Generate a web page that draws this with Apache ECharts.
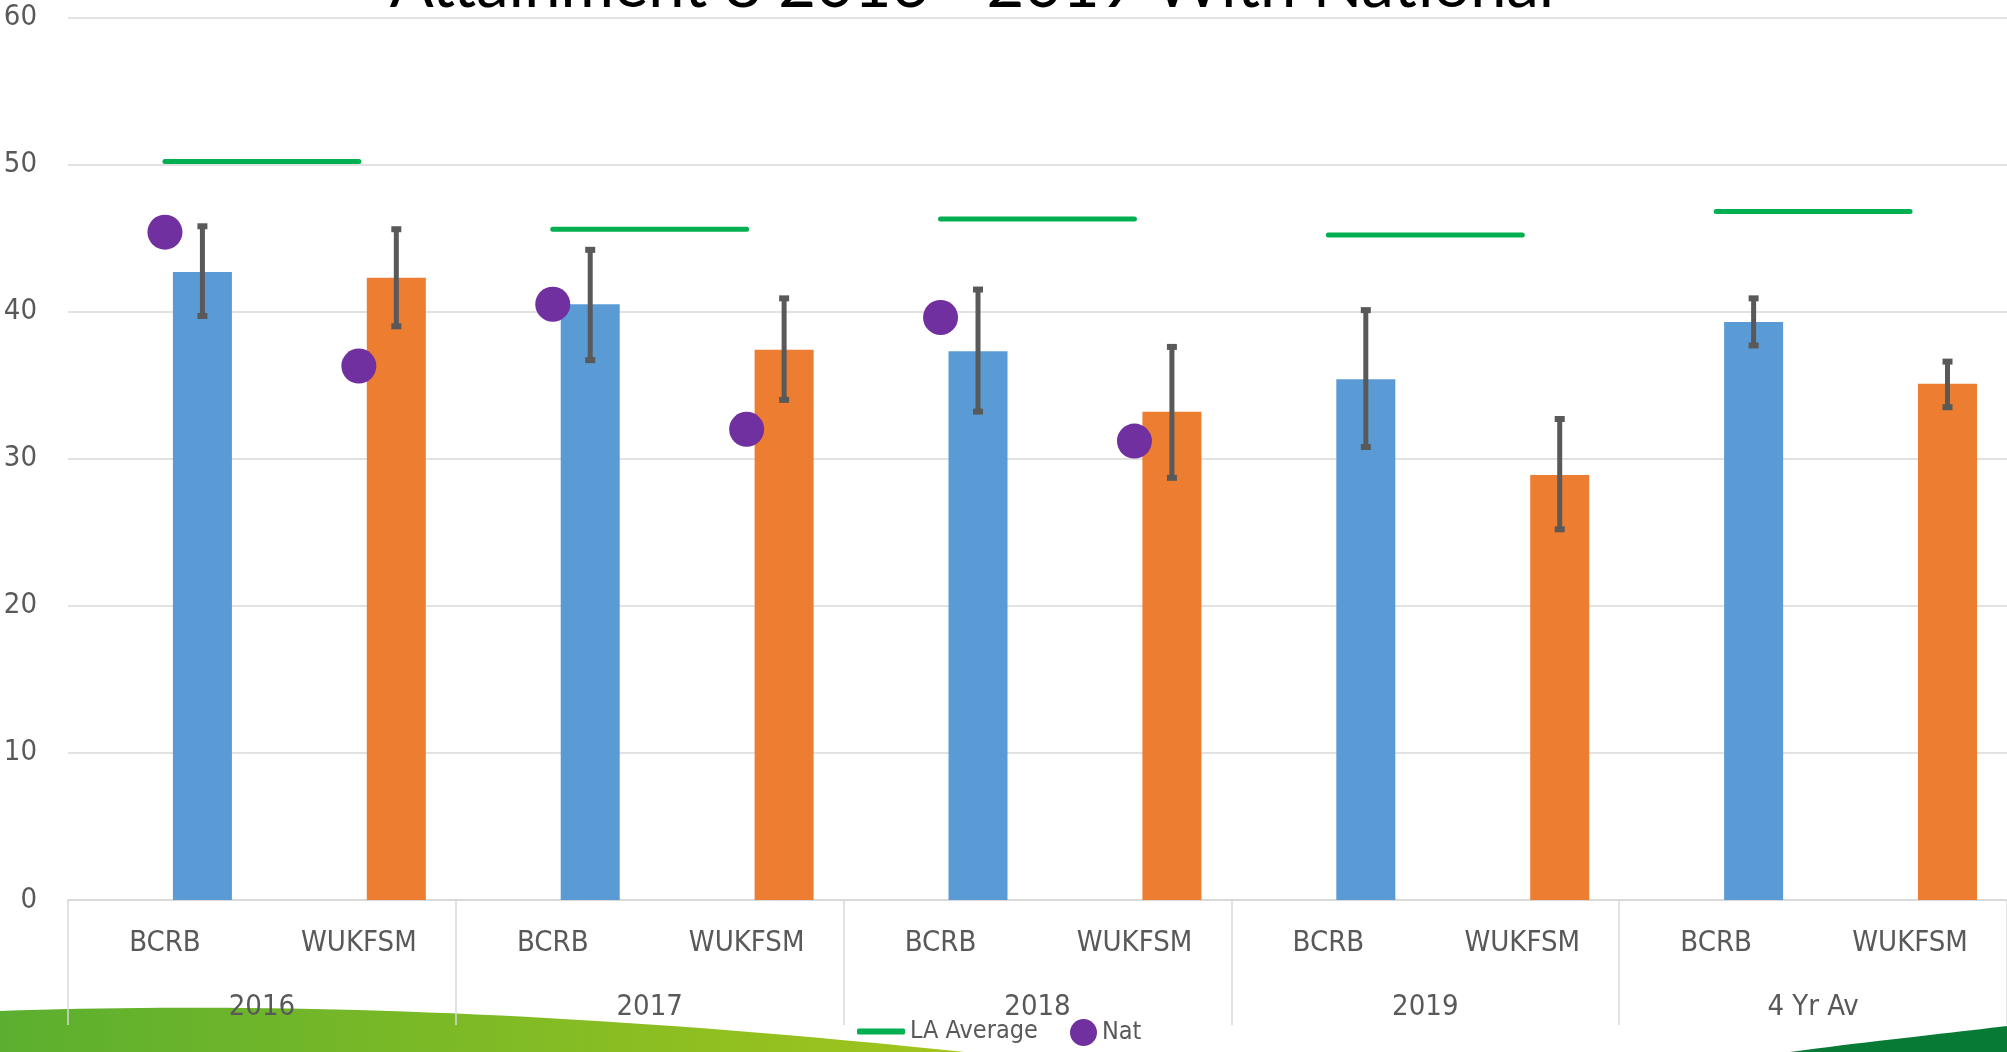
<!DOCTYPE html>
<html>
<head>
<meta charset="utf-8">
<title>Attainment 8 2016 - 2019 With National</title>
<script src="https://cdn.jsdelivr.net/npm/echarts@6/dist/echarts.min.js"></script>
<style>
  html, body { margin: 0; padding: 0; background: #ffffff; }
  #chart { width: 2007px; height: 1052px; }
</style>
</head>
<body>
<div id="chart"></div>
<script>
// data
const groups = ['2016', '2017', '2018', '2019', '4 Yr Av']
const categories = ['BCRB', 'WUKFSM', 'BCRB', 'WUKFSM', 'BCRB', 'WUKFSM', 'BCRB', 'WUKFSM', 'BCRB', 'WUKFSM']
const barValues = [42.7, 42.3, 40.5, 37.4, 37.3, 33.2, 35.4, 28.9, 39.3, 35.1]
const errLow = [39.7, 39.0, 36.7, 34.0, 33.2, 28.7, 30.8, 25.2, 37.7, 33.5]
const errHigh = [45.8, 45.6, 44.2, 40.9, 41.5, 37.6, 40.1, 32.7, 40.9, 36.6]
const natValues = [45.4, 36.3, 40.5, 32.0, 39.6, 31.2, null, null, null, null]
const laAverage = [50.2, 45.6, 46.3, 45.2, 46.8]
const yTicks = { min: 0, max: 60, interval: 10 }

const FONT = "'Liberation Sans Narrow', 'DejaVu Sans Condensed', sans-serif"
const GREY = '#595959'
const BLUE = '#5B9BD5', ORANGE = '#ED7D31', PURPLE = '#7030A0', GREEN = '#00B050'
const BAR_W = 59
const BAR_GAP = 0.27
// bars sit right of the category centre (empty slot on the left, like the excel chart)
const barShift = BAR_W * (1 + BAR_GAP) / 2

// slide background swooshes (decoration only)
function bezierPts(p0, p1, p2, p3, n) {
  const pts = []
  for (let k = 0; k <= n; k++) {
    const t = k / n, u = 1 - t
    pts.push([
      u*u*u*p0[0] + 3*u*u*t*p1[0] + 3*u*t*t*p2[0] + t*t*t*p3[0],
      u*u*u*p0[1] + 3*u*u*t*p1[1] + 3*u*t*t*p2[1] + t*t*t*p3[1]
    ])
  }
  return pts
}
const leftSwoosh = bezierPts([0, 1011], [260, 1002], [560, 1010], [965, 1052], 40).concat([[0, 1052]])
const rightSwoosh = bezierPts([1790, 1052], [1880, 1040], [1950, 1033], [2007, 1026], 20).concat([[2007, 1052]])

const chart = echarts.init(document.getElementById('chart'), null, { renderer: 'canvas' })

function errorItem(params, api) {
  const i = api.value(0)
  const lo = api.coord([i, api.value(1)])
  const hi = api.coord([i, api.value(2)])
  const x = lo[0] + barShift
  const st = { stroke: GREY, lineWidth: 5 }
  const cap = { stroke: GREY, lineWidth: 6 }
  return {
    type: 'group',
    children: [
      { type: 'line', shape: { x1: x, y1: hi[1], x2: x, y2: lo[1] }, style: st },
      { type: 'line', shape: { x1: x - 5, y1: hi[1], x2: x + 5, y2: hi[1] }, style: cap },
      { type: 'line', shape: { x1: x - 5, y1: lo[1], x2: x + 5, y2: lo[1] }, style: cap }
    ]
  }
}

function laItem(params, api) {
  const i = api.value(0)
  const v = api.value(1)
  const a = api.coord([i, v])
  const b = api.coord([i + 1, v])
  return {
    type: 'line',
    shape: { x1: a[0], y1: a[1], x2: b[0], y2: b[1] },
    style: { stroke: GREEN, lineWidth: 5, lineCap: 'round' }
  }
}

const option = {
  backgroundColor: '#ffffff',
  animation: false,
  textStyle: { fontFamily: FONT },
  graphic: [
    {
      type: 'polygon', z: -10, silent: true,
      shape: { points: leftSwoosh },
      style: {
        fill: {
          type: 'linear', x: 0, y: 0, x2: 1, y2: 0,
          colorStops: [
            { offset: 0, color: '#5BAF2F' },
            { offset: 1, color: '#A2C51C' }
          ]
        }
      }
    },
    {
      type: 'polygon', z: -10, silent: true,
      shape: { points: rightSwoosh },
      style: { fill: '#077A36' }
    },
    {
      type: 'text', x: 972, y: -14, z: 10, silent: true,
      style: {
        text: 'Attainment 8 2016 - 2019 With National',
        fontFamily: "Lato, 'Open Sans', sans-serif", fontWeight: 'normal', fontSize: 65,
        fill: '#000000', align: 'center', verticalAlign: 'middle'
      }
    }
  ],
  legend: [
    {
      data: [{ name: 'LA Average', icon: 'roundRect' }],
      left: 857, top: 1019, padding: 0, itemWidth: 48, itemHeight: 6,
      textStyle: { color: GREY, fontSize: 25, fontFamily: FONT }
    },
    {
      data: [{ name: 'Nat', icon: 'circle' }],
      left: 1070, top: 1019, padding: 0, itemWidth: 27, itemHeight: 27,
      textStyle: { color: GREY, fontSize: 25, fontFamily: FONT }
    }
  ],
  grid: { left: 68, right: 0, top: 17.4, bottom: 152, containLabel: false },
  xAxis: [
    {
      type: 'category', data: categories,
      axisLine: { lineStyle: { color: '#D9D9D9', width: 2 } },
      axisTick: { show: false },
      axisLabel: { color: GREY, fontSize: 29, fontFamily: FONT, margin: 29, interval: 0 }
    },
    {
      type: 'category', data: groups, position: 'bottom',
      axisLine: { show: false },
      axisTick: { show: true, length: 125, lineStyle: { color: '#D9D9D9', width: 1.5 } },
      axisLabel: { color: GREY, fontSize: 29, fontFamily: FONT, margin: 93, interval: 0 }
    }
  ],
  yAxis: {
    type: 'value', min: yTicks.min, max: yTicks.max, interval: yTicks.interval,
    axisLine: { show: false }, axisTick: { show: false },
    axisLabel: { color: GREY, fontSize: 29, fontFamily: FONT, margin: 31 },
    splitLine: { lineStyle: { color: '#D9D9D9', width: 1.5 } }
  },
  series: [
    {
      name: 'pad', type: 'bar', silent: true,
      data: categories.map(() => '-'),
      barWidth: BAR_W, barGap: (BAR_GAP * 100) + '%'
    },
    {
      name: 'Attainment 8', type: 'bar',
      data: barValues.map((v, i) => ({ value: v, itemStyle: { color: i % 2 === 0 ? BLUE : ORANGE } })),
      barWidth: BAR_W, barGap: (BAR_GAP * 100) + '%'
    },
    {
      name: 'error', type: 'custom', z: 5,
      renderItem: errorItem,
      encode: { x: 0, y: [1, 2] },
      data: errLow.map((lo, i) => [i, lo, errHigh[i]])
    },
    {
      name: 'LA Average', type: 'custom', z: 6,
      itemStyle: { color: GREEN },
      renderItem: laItem,
      encode: { x: 0, y: 1 },
      data: laAverage.map((v, g) => [g * 2, v])
    },
    {
      name: 'Nat', type: 'scatter', z: 7,
      symbol: 'circle', symbolSize: 35,
      itemStyle: { color: PURPLE, opacity: 1 },
      data: natValues.map(v => (v == null ? '-' : v))
    }
  ]
}

chart.setOption(option)
</script>
</body>
</html>
